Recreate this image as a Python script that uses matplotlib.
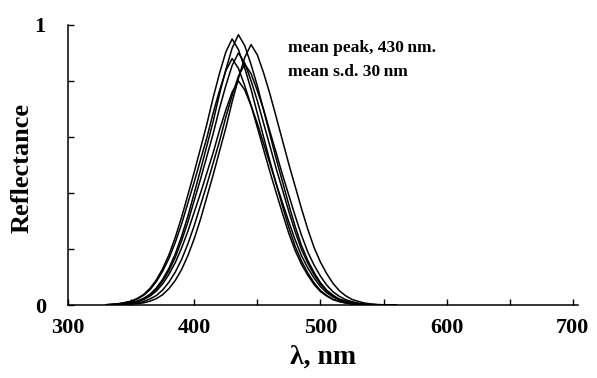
import matplotlib
matplotlib.use("Agg")
import matplotlib.pyplot as plt
import numpy as np

plt.rcParams["font.family"] = ["Liberation Serif", "DejaVu Serif"]

# wavelength grid (nm)
wavelength = [330, 335, 340, 345, 350, 355, 360, 365, 370, 375, 380, 385,
              390, 395, 400, 405, 410, 415, 420, 425, 430, 435, 440, 445,
              450, 455, 460, 465, 470, 475, 480, 485, 490, 495, 500, 505,
              510, 515, 520, 525, 530, 535, 540, 545, 550, 555, 560]

# reflectance spectra
curve_a = [0.0, 0.001, 0.003, 0.005, 0.009, 0.014, 0.024, 0.039, 0.061, 0.092, 0.132, 0.183,
           0.246, 0.318, 0.40, 0.483, 0.569, 0.656, 0.753, 0.84, 0.917, 0.965, 0.926, 0.859,
           0.782, 0.695, 0.608, 0.521, 0.439, 0.357, 0.28, 0.212, 0.159, 0.116, 0.08, 0.053,
           0.035, 0.021, 0.014, 0.008, 0.004, 0.002, 0.001, 0.0, 0.0, 0.0, 0.0]
curve_b = [0.001, 0.003, 0.005, 0.009, 0.014, 0.024, 0.038, 0.06, 0.09, 0.13, 0.18, 0.242,
           0.314, 0.394, 0.475, 0.56, 0.646, 0.741, 0.827, 0.903, 0.95, 0.912, 0.846, 0.77,
           0.684, 0.599, 0.513, 0.432, 0.352, 0.276, 0.209, 0.157, 0.114, 0.079, 0.052, 0.034,
           0.021, 0.013, 0.008, 0.004, 0.002, 0.001, 0.0, 0.0, 0.0, 0.0, 0.0]
curve_c = [0.0, 0.0, 0.0, 0.001, 0.003, 0.005, 0.008, 0.014, 0.023, 0.037, 0.059, 0.088,
           0.127, 0.177, 0.237, 0.307, 0.386, 0.465, 0.549, 0.632, 0.725, 0.809, 0.884, 0.93,
           0.893, 0.828, 0.753, 0.67, 0.586, 0.502, 0.423, 0.344, 0.27, 0.205, 0.153, 0.112,
           0.077, 0.051, 0.033, 0.02, 0.013, 0.007, 0.004, 0.002, 0.001, 0.0, 0.0]
curve_d = [0.0, 0.001, 0.003, 0.005, 0.008, 0.014, 0.023, 0.036, 0.057, 0.086, 0.123, 0.171,
           0.23, 0.297, 0.374, 0.45, 0.531, 0.612, 0.702, 0.783, 0.855, 0.90, 0.864, 0.801,
           0.729, 0.648, 0.567, 0.486, 0.41, 0.333, 0.261, 0.198, 0.149, 0.108, 0.075, 0.05,
           0.032, 0.02, 0.013, 0.007, 0.004, 0.002, 0.001, 0.0, 0.0, 0.0, 0.0]
curve_e = [0.001, 0.003, 0.004, 0.008, 0.013, 0.022, 0.035, 0.055, 0.084, 0.121, 0.167, 0.224,
           0.29, 0.365, 0.44, 0.519, 0.598, 0.686, 0.766, 0.836, 0.88, 0.845, 0.783, 0.713,
           0.634, 0.554, 0.475, 0.40, 0.326, 0.255, 0.194, 0.145, 0.106, 0.073, 0.048, 0.032,
           0.019, 0.012, 0.007, 0.004, 0.002, 0.001, 0.0, 0.0, 0.0, 0.0, 0.0]
curve_f = [0.0, 0.0, 0.001, 0.003, 0.004, 0.008, 0.013, 0.022, 0.034, 0.054, 0.082, 0.118,
           0.163, 0.219, 0.284, 0.357, 0.43, 0.507, 0.585, 0.671, 0.748, 0.817, 0.86, 0.826,
           0.765, 0.697, 0.619, 0.542, 0.464, 0.391, 0.318, 0.249, 0.189, 0.142, 0.103, 0.071,
           0.047, 0.031, 0.019, 0.012, 0.007, 0.003, 0.002, 0.001, 0.0, 0.0, 0.0]
curve_g = [0.0, 0.001, 0.002, 0.004, 0.007, 0.012, 0.02, 0.032, 0.05, 0.076, 0.11, 0.152,
           0.204, 0.264, 0.332, 0.40, 0.472, 0.544, 0.624, 0.696, 0.76, 0.80, 0.768, 0.712,
           0.648, 0.576, 0.504, 0.432, 0.364, 0.296, 0.232, 0.176, 0.132, 0.096, 0.066, 0.044,
           0.029, 0.018, 0.011, 0.006, 0.003, 0.002, 0.001, 0.0, 0.0, 0.0, 0.0]

spectra = [curve_a, curve_b, curve_c, curve_d, curve_e, curve_f, curve_g]

x_ticks = [300, 350, 400, 450, 500, 550, 600, 650, 700]
x_labels = ["300", "", "400", "", "500", "", "600", "", "700"]
y_ticks = [0, 0.2, 0.4, 0.6, 0.8, 1.0]
y_labels = ["0", "", "", "", "", "1"]

fig = plt.figure(figsize=(5.97, 3.78), dpi=100)
ax = fig.add_axes([0.114, 0.193, 0.854, 0.741])

for s in spectra:
    ax.plot(wavelength, s, color="black", lw=1.1)

ax.set_xlim(300, 704)
ax.set_ylim(0, 1)
ax.spines["top"].set_visible(False)
ax.spines["right"].set_visible(False)
for sp in ("left", "bottom"):
    ax.spines[sp].set_linewidth(1.1)

ax.set_xticks(x_ticks)
ax.set_xticklabels(x_labels)
ax.set_yticks(y_ticks)
ax.set_yticklabels(y_labels)
ax.tick_params(direction="in", length=4, width=1, labelsize=16)
ax.tick_params(axis="x", pad=9)
ax.tick_params(axis="y", pad=16)
for lab in ax.get_xticklabels() + ax.get_yticklabels():
    lab.set_fontweight("bold")

ax.set_xlabel("λ, nm", fontsize=20, fontweight="bold")
ax.xaxis.set_label_coords(0.5, -0.14)
ax.set_ylabel("Reflectance", fontsize=19, fontweight="bold")
ax.yaxis.set_label_coords(-0.068, 0.49)

ax.text(0.431, 0.902, "mean peak, 430\u2009nm.", transform=ax.transAxes,
        fontsize=12.5, fontweight="bold", va="baseline", ha="left")
ax.text(0.431, 0.816, "mean s.d. 30\u2009nm", transform=ax.transAxes,
        fontsize=12.5, fontweight="bold", va="baseline", ha="left")

fig.savefig("out.png", dpi=100)
